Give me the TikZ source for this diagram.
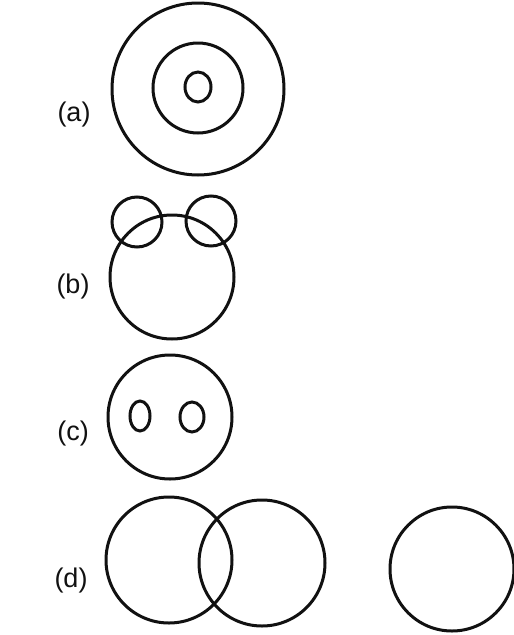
\documentclass[tikz,border=0pt]{standalone}
\usepackage{fontspec}
\setmainfont{Liberation Sans}
\usepackage{xcolor}
\definecolor{ink}{HTML}{111111}

\begin{document}
\begin{tikzpicture}[x=1pt,y=-1pt,
  ring/.style={draw=ink,line width=3pt},
  tag/.style={font=\fontsize{27}{30}\selectfont,text=ink,inner sep=0pt}]
  \useasboundingbox (0,0) rectangle (514,635);
  % (a)
  \node[tag] (taga) at (74,115) {(a)};
  \draw[ring] (198,89) circle[radius=86];
  \draw[ring] (198,88) circle[radius=45];
  \draw[ring] (198,87) ellipse[x radius=13,y radius=15];
  % (b)
  \node[tag] (tagb) at (73,287) {(b)};
  \draw[ring] (172,277) circle[radius=62];
  \draw[ring] (137,222) circle[radius=25];
  \draw[ring] (211,221) circle[radius=25];
  % (c)
  \node[tag] (tagc) at (73,434) {(c)};
  \draw[ring] (170,417) circle[radius=62];
  \draw[ring] (140,416) ellipse[x radius=10,y radius=15];
  \draw[ring] (192,417) ellipse[x radius=12,y radius=15];
  % (d)
  \node[tag] (tagd) at (71,581) {(d)};
  \draw[ring] (169,560) circle[radius=63];
  \draw[ring] (262,563) circle[radius=63];
  \draw[ring] (452,569) circle[radius=62];
\end{tikzpicture}
\end{document}
